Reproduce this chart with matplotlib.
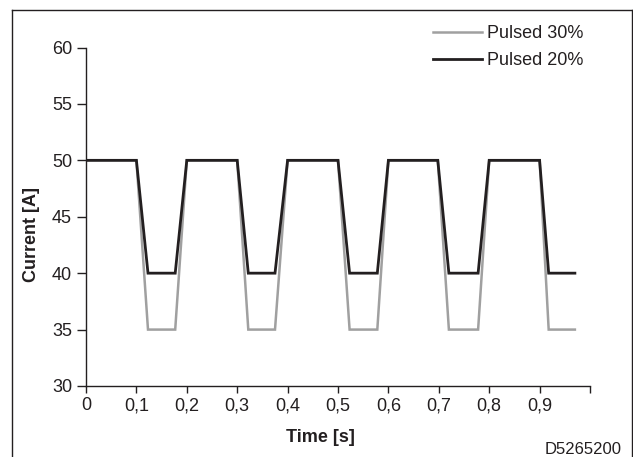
import matplotlib
matplotlib.use("Agg")
import matplotlib.pyplot as plt
from matplotlib.lines import Line2D

plt.rcParams['font.family'] = ['Liberation Sans', 'DejaVu Sans']

# datos
tiempo = [0, 0.1, 0.123, 0.177, 0.2, 0.3, 0.322, 0.375, 0.4, 0.5, 0.523,
          0.578, 0.6, 0.698, 0.72, 0.778, 0.8, 0.9, 0.918, 0.97]
pulsado_30 = [50, 50, 35, 35, 50, 50, 35, 35, 50, 50, 35,
              35, 50, 50, 35, 35, 50, 50, 35, 35]
pulsado_20 = [50, 50, 40, 40, 50, 50, 40, 40, 50, 50, 40,
              40, 50, 50, 40, 40, 50, 50, 40, 40]

xticks = [0, 0.1, 0.2, 0.3, 0.4, 0.5, 0.6, 0.7, 0.8, 0.9, 1.0]
xtick_labels = ['0', '0,1', '0,2', '0,3', '0,4', '0,5', '0,6', '0,7', '0,8', '0,9', '']
yticks = [30, 35, 40, 45, 50, 55, 60]

oscuro = '#231f20'
gris = '#a0a0a0'

W, H = 633, 457
fig = plt.figure(figsize=(W / 100, H / 100), dpi=100)
ax = fig.add_axes([86 / W, 1 - 386 / H, (590 - 86) / W, (386 - 47.5) / H])

ax.plot(tiempo, pulsado_30, color=gris, lw=1.8, label='Pulsed 30%',
        solid_joinstyle='miter')
ax.plot(tiempo, pulsado_20, color=oscuro, lw=2.0, label='Pulsed 20%',
        solid_joinstyle='miter')

ax.set_xlim(0, 1.0)
ax.set_ylim(30, 60)
ax.set_xticks(xticks)
ax.set_xticklabels(xtick_labels)
ax.set_yticks(yticks)

for lado in ['top', 'right']:
    ax.spines[lado].set_visible(False)
for lado in ['left', 'bottom']:
    ax.spines[lado].set_color(oscuro)
    ax.spines[lado].set_linewidth(1.0)

ax.tick_params(axis='x', direction='out', length=5, width=1.0, color=oscuro,
               labelsize=13, pad=3, labelcolor=oscuro)
ax.tick_params(axis='y', direction='out', length=6.5, width=1.0, color=oscuro,
               labelsize=13, pad=3.5, labelcolor=oscuro)

# etiquetas de ejes
fig.text(320 / W, 1 - 437 / H, 'Time [s]', ha='center', va='center',
         fontsize=13, fontweight='bold', color=oscuro)
fig.text(32 / W, 1 - 235 / H, 'Current [A]', ha='center', va='center',
         rotation=90, fontsize=13, fontweight='bold', color=oscuro)
fig.text(622 / W, 1 - 449 / H, 'D5265200', ha='right', va='center',
         fontsize=12, color=oscuro)

leg = ax.legend(loc='upper left', bbox_to_anchor=(433 / W, 1 - 25 / H),
                bbox_transform=fig.transFigure, frameon=False, fontsize=13,
                handlelength=2.7, handletextpad=0.3, borderpad=0,
                borderaxespad=0, labelspacing=0.58)
for t in leg.get_texts():
    t.set_color(oscuro)

# marco de la figura
for xs, ys in [([12, 12], [10, H]), ([12, 631.5], [10, 10]), ([631.5, 631.5], [10, H])]:
    fig.add_artist(Line2D([x / W for x in xs], [1 - y / H for y in ys],
                          transform=fig.transFigure, color=oscuro, lw=1.0))

fig.savefig('out.png', dpi=100)
